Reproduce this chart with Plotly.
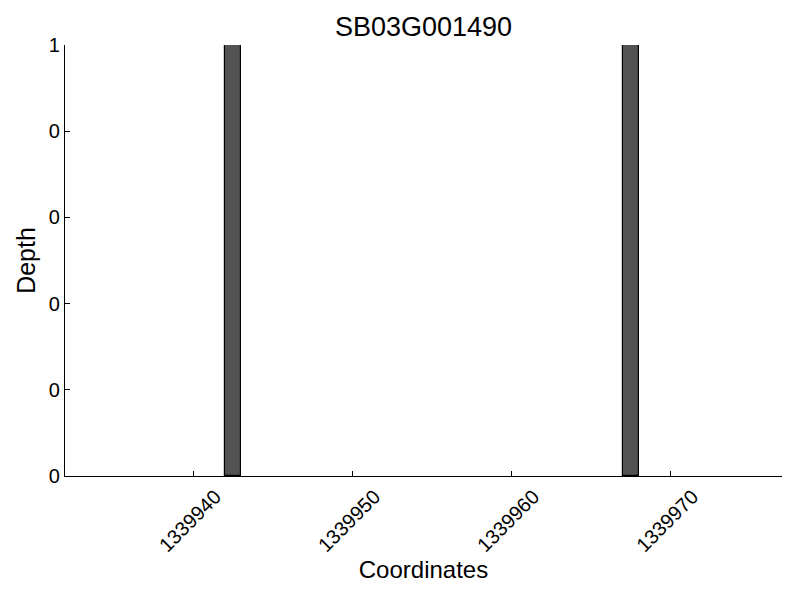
import plotly.graph_objects as go

title = "SB03G001490"
positions = [1339942, 1339967]
depths = [1, 1]
ytick_vals = [0, 0.2, 0.4, 0.6, 0.8, 1.0]
ytick_text = ["0", "0", "0", "0", "0", "1"]
xtick_vals = [1339940, 1339950, 1339960, 1339970]
xtick_text = ["1339940", "1339950", "1339960", "1339970"]

fig = go.Figure(go.Bar(
    x=positions, y=depths, width=1, offset=0,
    marker=dict(color="#535353", line=dict(color="black", width=1.2)),
))

font = "Liberation Sans, Arial, Helvetica, sans-serif"
# the page has an 8px body margin, so margins are shifted to compensate
fig.update_layout(
    width=800, height=600,
    margin=dict(l=57, r=26, t=37, b=132, autoexpand=False),
    paper_bgcolor="white", plot_bgcolor="white",
    font=dict(family=font, color="black"),
    title=dict(text=title, x=(423.5 - 8) / 800, xanchor="center",
               xref="container", y=1 - 19 / 600, yanchor="middle", yref="container",
               font=dict(size=27, family=font, color="black")),
    showlegend=False,
    bargap=0,
)
fig.update_xaxes(
    range=[1339931.93, 1339977.0],
    tickvals=xtick_vals, ticktext=xtick_text, tickangle=-45,
    ticks="inside", ticklen=5, tickcolor="black", tickwidth=1,
    tickfont=dict(size=20), ticklabelshift=22,
    showgrid=False, zeroline=False, automargin=False,
    showline=True, linecolor="black", linewidth=1.3,
    title=dict(text="Coordinates", font=dict(size=24), standoff=4),
)
fig.update_yaxes(
    range=[0, 1],
    tickvals=ytick_vals, ticktext=ytick_text,
    ticks="inside", ticklen=5, tickcolor="black", tickwidth=1,
    tickfont=dict(size=20),
    showgrid=False, zeroline=False, automargin=False,
    showline=True, linecolor="black", linewidth=1.3,
    title=dict(text="Depth", font=dict(size=25), standoff=5),
)

fig.write_html("out.html")
